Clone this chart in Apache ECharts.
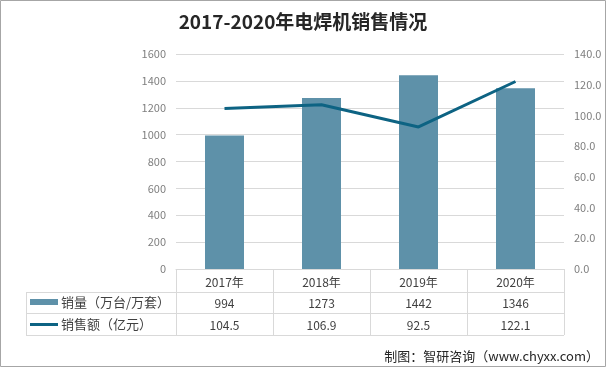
<!DOCTYPE html>
<html><head><meta charset="utf-8">
<script src="https://cdn.jsdelivr.net/npm/echarts@6/dist/echarts.min.js"></script>
<style>html,body{margin:0;padding:0;background:#fff}#c{width:606px;height:367px}</style>
</head><body><div id="c"></div>
<script>
const categories = ['2017年','2018年','2019年','2020年'];
const salesVolume = [994, 1273, 1442, 1346];
const salesValue = [104.5, 106.9, 92.5, 122.1];
const volumeValueLabels = ['994','1273','1442','1346'];
const valueLabels = ['104.5','106.9','92.5','122.1'];
const seriesNames = ['销量（万台/万套）','销售额（亿元）'];
const leftTicks = [0,200,400,600,800,1000,1200,1400,1600];
const rightTicks = [0,20,40,60,80,100,120,140];

const FONT = '"Noto Sans CJK SC", "Microsoft YaHei", sans-serif';
const barColor = '#5e91a9';
const lineColor = '#0d6383';
const gridColor = '#d9d9d9';

const gl = 176, gr = 564, gt = 54, gb = 269;
const rowY = [292, 313, 335];
const tableLeft = 26;
const colW = (gr - gl) / categories.length;

const graphics = [];
graphics.push({type:'rect', shape:{x:0.5,y:0.5,width:605,height:366}, style:{fill:null, stroke:'#a6a6a6', lineWidth:1}, silent:true});
rowY.forEach(y => graphics.push({type:'line', shape:{x1:tableLeft,y1:y+0.5,x2:gr,y2:y+0.5}, style:{stroke:gridColor,lineWidth:1}}));
for (let i = 0; i <= categories.length; i++) {
  const x = Math.round(gl + i*colW) + 0.5;
  graphics.push({type:'line', shape:{x1:x,y1:gb,x2:x,y2:rowY[2]}, style:{stroke:gridColor,lineWidth:1}});
}
graphics.push({type:'line', shape:{x1:tableLeft+0.5,y1:rowY[0],x2:tableLeft+0.5,y2:rowY[2]}, style:{stroke:gridColor,lineWidth:1}});
graphics.push({type:'rect', shape:{x:30,y:299,width:28,height:6}, style:{fill:barColor}});
graphics.push({type:'line', shape:{x1:30,y1:324.5,x2:58,y2:324.5}, style:{stroke:lineColor,lineWidth:3}});
graphics.push({type:'text', style:{x:61,y:(rowY[0]+rowY[1])/2,text:seriesNames[0],fill:'#404040',font:'13px '+FONT,textVerticalAlign:'middle'}});
graphics.push({type:'text', style:{x:61,y:(rowY[1]+rowY[2])/2,text:seriesNames[1],fill:'#404040',font:'13px '+FONT,textVerticalAlign:'middle'}});
categories.forEach((c,i) => {
  const cx = gl + (i+0.5)*colW;
  graphics.push({type:'text', style:{x:cx,y:(rowY[0]+rowY[1])/2+1,text:volumeValueLabels[i],fill:'#404040',font:'12px '+FONT,textAlign:'center',textVerticalAlign:'middle'}});
  graphics.push({type:'text', style:{x:cx,y:(rowY[1]+rowY[2])/2+1,text:valueLabels[i],fill:'#404040',font:'12px '+FONT,textAlign:'center',textVerticalAlign:'middle'}});
});
graphics.push({type:'text', style:{x:599,y:356,text:'制图：智研咨询（www.chyxx.com）',fill:'#262626',font:'13px '+FONT,textAlign:'right',textVerticalAlign:'middle'}});

const chart = echarts.init(document.getElementById('c'), null, {renderer:'canvas'});
chart.setOption({
  animation:false,
  backgroundColor:'#fff',
  title:{text:'2017-2020年电焊机销售情况', left:'center', top:7, textStyle:{fontFamily:FONT, fontSize:19, fontWeight:'bold', color:'#262626'}},
  grid:{left:gl, right:606-gr, top:gt, bottom:367-gb},
  xAxis:{type:'category', data:categories, axisLine:{show:true, lineStyle:{color:gridColor}}, axisTick:{show:false},
    axisLabel:{color:'#404040', fontFamily:FONT, fontSize:12, margin:7}},
  yAxis:[
    {type:'value', min:leftTicks[0], max:leftTicks[leftTicks.length-1], interval:200, axisLine:{show:false}, axisTick:{show:false},
      splitLine:{lineStyle:{color:gridColor}}, axisLabel:{color:'#7f7f7f', fontFamily:FONT, fontSize:11, margin:10, formatter:v=>String(v)}},
    {type:'value', min:rightTicks[0], max:rightTicks[rightTicks.length-1], interval:20, axisLine:{show:false}, axisTick:{show:false},
      splitLine:{show:false}, axisLabel:{color:'#7f7f7f', fontFamily:FONT, fontSize:11, margin:10, formatter:v=>v.toFixed(1)}}
  ],
  series:[
    {name:seriesNames[0], type:'bar', data:salesVolume, barWidth:39, itemStyle:{color:barColor}},
    {name:seriesNames[1], type:'line', yAxisIndex:1, data:salesValue, symbol:'none', lineStyle:{color:lineColor, width:3}, itemStyle:{color:lineColor}}
  ],
  graphic:graphics
});
</script></body></html>
